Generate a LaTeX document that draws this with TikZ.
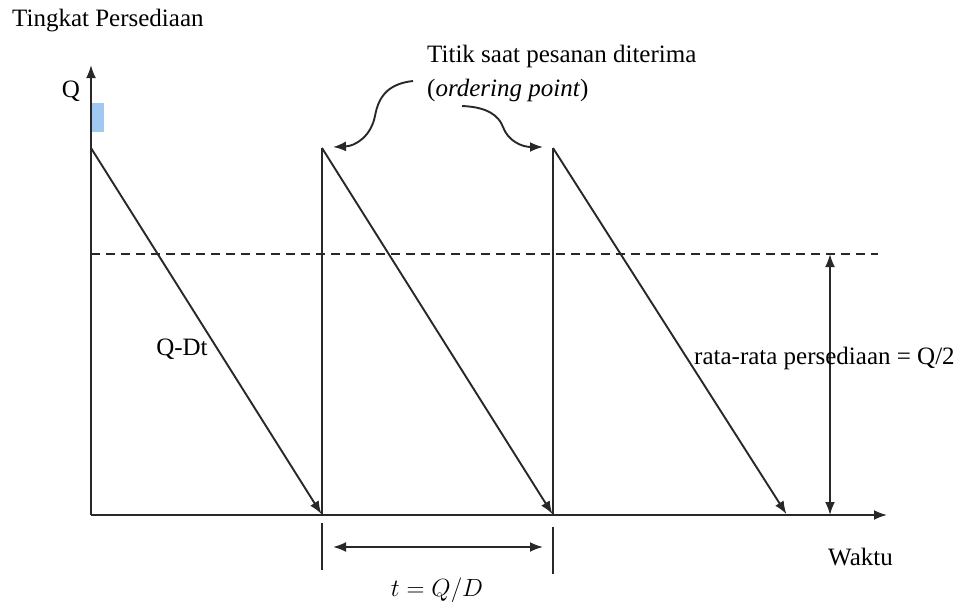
\documentclass[tikz,border=0pt]{standalone}
\usepackage{fontspec}
\setmainfont{Liberation Serif}
\usetikzlibrary{arrows.meta}
\definecolor{qblue}{RGB}{160,200,240}
\definecolor{lnc}{RGB}{40,40,40}
\begin{document}
\begin{tikzpicture}[x=1pt,y=-1pt,
  ln/.style={line width=1.9pt,draw=lnc},
  arr/.style={ln,-{Latex[length=13pt,width=10pt]}},
  darr/.style={ln,{Latex[length=13pt,width=10pt]}-{Latex[length=13pt,width=10pt]}},
  lbl/.style={inner sep=0pt,font=\fontsize{25}{29}\selectfont}]
\useasboundingbox (0,0) rectangle (962,603);
% axes
\coordinate (O) at (91,515);
\coordinate (ytop) at (91,65);
\coordinate (xend) at (887,515);
\fill[qblue] (92,103) rectangle (104,132);
\draw[arr] (O) -- (ytop);
\draw[arr] (O) -- (xend);
% sawtooth
\coordinate (p0) at (91,148);
\coordinate (b1) at (322,515);
\coordinate (p1) at (322,148);
\coordinate (b2) at (553,515);
\coordinate (p2) at (553,148);
\coordinate (b3) at (787,515);
\draw[arr,shorten >=1pt] (p0) -- (b1);
\draw[ln] (b1) -- (p1);
\draw[arr,shorten >=1pt] (p1) -- (b2);
\draw[ln] (b2) -- (p2);
\draw[arr,shorten >=1pt] (p2) -- (b3);
% dashed average
\coordinate (d0) at (91,254);
\coordinate (d1) at (878,254);
\draw[ln,dash pattern=on 9pt off 6pt] (d0) -- (d1);
\coordinate (a0) at (830,254);
\coordinate (a1) at (830,515);
\draw[darr] (a0) -- (a1);
% ticks and period
\coordinate (t1a) at (322,523);
\coordinate (t1b) at (322,570);
\coordinate (t2a) at (553,527);
\coordinate (t2b) at (553,574);
\draw[ln] (t1a) -- (t1b);
\draw[ln] (t2a) -- (t2b);
\coordinate (h0) at (333,547);
\coordinate (h1) at (543,547);
\draw[darr] (h0) -- (h1);
% labels
\node[lbl,anchor=west] (tp) at (12,21) {Tingkat Persediaan};
\node[lbl] (qlab) at (71,91) {Q};
\node[lbl,anchor=west] (tsp) at (427,56) {Titik saat pesanan diterima};
\node[lbl,anchor=west] (op) at (427,90) {(\textit{ordering point})};
\node[lbl] (qdt) at (182,349) {Q-Dt};
\node[lbl,anchor=west] (rr) at (694,358) {rata-rata persediaan = Q/2};
\node[lbl,anchor=west] (wk) at (828,557) {Waktu};
\node[lbl] (tq) at (437,590) {$t = Q/D$};
% curved arrows
\coordinate (c1s) at (413,81);
\coordinate (c1e) at (333,147);
\coordinate (c2s) at (462,106);
\coordinate (c2e) at (543,147);
\draw[arr] (c1s) .. controls (385,84) and (378,100) .. (375,116) .. controls (371,136) and (356,146) .. (c1e);
\draw[arr] (c2s) .. controls (488,107) and (499,116) .. (503,127) .. controls (508,141) and (522,147) .. (c2e);
\end{tikzpicture}
\end{document}
